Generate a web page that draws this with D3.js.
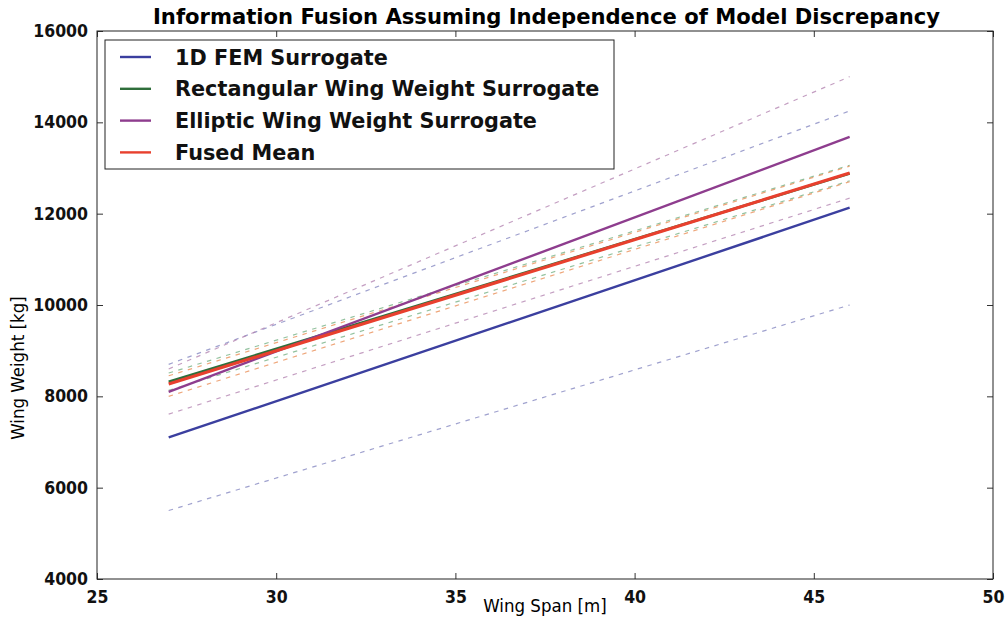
<!DOCTYPE html>
<meta charset="utf-8">
<script src="https://d3js.org/d3.v7.min.js"></script>
<style>
  body { margin: 0; background: #fff; overflow: hidden; }
  .tick text { font-family: "DejaVu Sans Condensed", "DejaVu Sans"; font-weight: bold; font-size: 17.5px; fill: #111; }
</style>
<div id="chart"></div>
<script>
// wing span samples (m)
const span = [27, 46];

// wing weight (kg), mean and dashed bounds per model
const femMean   = [7100, 12130];
const femLo     = [5500, 10000];
const femHi     = [8700, 14250];
const rectMean  = [8320, 12880];
const rectLo    = [8130, 12720];
const rectHi    = [8510, 13060];
const ellipMean = [8100, 13680];
const ellipLo   = [7610, 12340];
const ellipHi   = [8600, 15000];
const fusedMean = [8270, 12890];
const fusedLo   = [8000, 12700];
const fusedHi   = [8450, 13040];

const xTicks = [25, 30, 35, 40, 45, 50];
const yTicks = [4000, 6000, 8000, 10000, 12000, 14000, 16000];
const legendNames = ["1D FEM Surrogate", "Rectangular Wing Weight Surrogate", "Elliptic Wing Weight Surrogate", "Fused Mean"];
const colors = ["#3b3f9f", "#2f6e3b", "#8e3d8e", "#e8402e"];
const dashColors = ["#7f82bd", "#6fae7f", "#b07fae", "#e8884e"];

const W = 1008, H = 619;
const mLeft = 97, mRight = 993, mTop = 31, mBottom = 579;

const svg = d3.select("#chart").append("svg")
  .attr("width", W).attr("height", H);

const x = d3.scaleLinear().domain([25, 50]).range([mLeft, mRight]);
const y = d3.scaleLinear().domain([4000, 16000]).range([mBottom, mTop]);

const toPts = vals => span.map((s, i) => [s, vals[i]]);
const line = d3.line().x(d => x(d[0])).y(d => y(d[1]));

const dashed = [
  [femLo, 0], [femHi, 0],
  [rectLo, 1], [rectHi, 1],
  [ellipLo, 2], [ellipHi, 2],
  [fusedLo, 3], [fusedHi, 3]
];
const solid = [[femMean, 0, 2.4], [rectMean, 1, 2.6], [ellipMean, 2, 2.4], [fusedMean, 3, 3.2]];

svg.append("g").selectAll("path")
  .data(dashed)
  .join("path")
  .attr("d", d => line(toPts(d[0])))
  .attr("fill", "none")
  .attr("stroke", d => dashColors[d[1]])
  .attr("stroke-opacity", 0.75)
  .attr("stroke-width", 1.2)
  .attr("stroke-dasharray", "4.5,5.5");

svg.append("g").selectAll("path")
  .data(solid)
  .join("path")
  .attr("d", d => line(toPts(d[0])))
  .attr("fill", "none")
  .attr("stroke", d => colors[d[1]])
  .attr("stroke-width", d => d[2]);

// axes with inward ticks on all sides
svg.append("g").attr("transform", `translate(0,${mBottom})`)
  .call(d3.axisBottom(x).tickValues(xTicks).tickSizeInner(-6).tickSizeOuter(0).tickPadding(12).tickFormat(d3.format("d")));
svg.append("g").attr("transform", `translate(${mLeft},0)`)
  .call(d3.axisLeft(y).tickValues(yTicks).tickSizeInner(-6).tickSizeOuter(0).tickPadding(9).tickFormat(d3.format("d")));
svg.append("g").attr("transform", `translate(0,${mTop})`)
  .call(d3.axisTop(x).tickValues(xTicks).tickSizeInner(-6).tickSizeOuter(0).tickFormat(""));
svg.append("g").attr("transform", `translate(${mRight},0)`)
  .call(d3.axisRight(y).tickValues(yTicks).tickSizeInner(-6).tickSizeOuter(0).tickFormat(""));
svg.selectAll(".domain").remove();
svg.selectAll(".tick line").attr("stroke", "#333");

svg.append("rect")
  .attr("x", mLeft).attr("y", mTop)
  .attr("width", mRight - mLeft).attr("height", mBottom - mTop)
  .attr("fill", "none").attr("stroke", "#222").attr("stroke-width", 1);

// title and axis labels
svg.append("text")
  .attr("x", 153).attr("y", 24)
  .attr("textLength", 787).attr("lengthAdjust", "spacingAndGlyphs")
  .style("font-family", "'DejaVu Sans Condensed', 'DejaVu Sans'")
  .style("font-weight", "bold").style("font-size", "21px")
  .text("Information Fusion Assuming Independence of Model Discrepancy");

svg.append("text")
  .attr("x", (mLeft + mRight) / 2).attr("y", 612)
  .attr("text-anchor", "middle")
  .style("font-family", "'DejaVu Sans Condensed', 'DejaVu Sans'")
  .style("font-size", "18.5px")
  .text("Wing Span [m]");

svg.append("text")
  .attr("transform", "translate(24,368) rotate(-90)")
  .attr("text-anchor", "middle")
  .style("font-family", "'DejaVu Sans Condensed', 'DejaVu Sans'")
  .style("font-size", "18.5px")
  .text("Wing Weight [kg]");

// legend
const legend = svg.append("g");
legend.append("rect")
  .attr("x", 105).attr("y", 40).attr("width", 509).attr("height", 129)
  .attr("fill", "#fff").attr("stroke", "#222").attr("stroke-width", 1);
const rows = legend.selectAll("g.row")
  .data(legendNames)
  .join("g")
  .attr("class", "row")
  .attr("transform", (d, i) => `translate(0,${57 + i * 31.8})`);
rows.append("line")
  .attr("x1", 120).attr("x2", 151)
  .attr("stroke", (d, i) => colors[i]).attr("stroke-width", 2.4);
rows.append("text")
  .attr("x", 175).attr("dy", "0.36em")
  .style("font-family", "'DejaVu Sans'")
  .style("font-weight", "bold").style("font-size", "20.8px")
  .style("fill", "#111")
  .text(d => d);
</script>
